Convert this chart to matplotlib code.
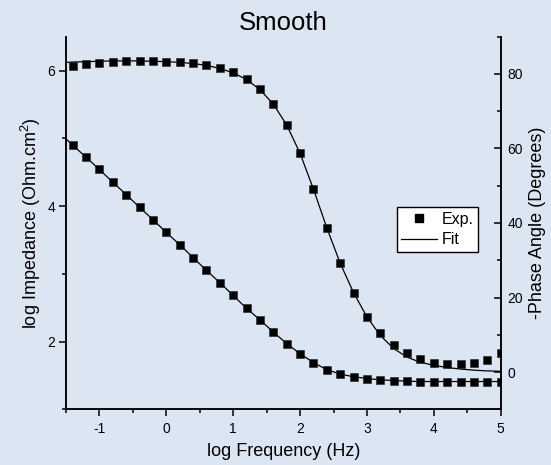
import numpy as np
import matplotlib
matplotlib.use("Agg")
import matplotlib.pyplot as plt
from matplotlib.ticker import MultipleLocator
from matplotlib.lines import Line2D

plt.rcParams['font.family'] = ['Liberation Sans', 'DejaVu Sans']
plt.rcParams['mathtext.fontset'] = 'custom'
plt.rcParams['mathtext.rm'] = 'Liberation Sans'
plt.rcParams['mathtext.it'] = 'Liberation Sans:italic'
plt.rcParams['axes.unicode_minus'] = False

# Measured frequencies (log10 Hz)
log_freq = [-1.4, -1.2, -1.0, -0.8, -0.6, -0.4, -0.2, 0.0, 0.2, 0.4, 0.6,
            0.8, 1.0, 1.2, 1.4, 1.6, 1.8, 2.0, 2.2, 2.4, 2.6, 2.8, 3.0,
            3.2, 3.4, 3.6, 3.8, 4.0, 4.2, 4.4, 4.6, 4.8, 5.0]

# Experimental |Z| (log Ohm.cm^2)
log_z_exp = [4.90, 4.72, 4.54, 4.35, 4.17, 3.98, 3.80, 3.61, 3.43, 3.24, 3.05,
             2.87, 2.68, 2.49, 2.32, 2.14, 1.97, 1.82, 1.69, 1.585, 1.52, 1.48, 1.45,
             1.43, 1.42, 1.415, 1.41, 1.41, 1.41, 1.41, 1.41, 1.41, 1.41]

# Experimental -phase angle (degrees)
phase_exp = [82.2, 82.6, 83.0, 83.2, 83.4, 83.5, 83.5, 83.3, 83.2, 82.9, 82.4,
             81.6, 80.4, 78.6, 75.9, 72.0, 66.3, 58.7, 49.1, 38.7, 29.2, 21.1, 14.8,
             10.4, 7.3, 5.0, 3.6, 2.5, 2.1, 2.1, 2.5, 3.3, 5.2]

# Equivalent-circuit fit
fit_freq = [-1.5, -1.4, -1.2, -1.0, -0.8, -0.6, -0.4, -0.2, 0.0, 0.2, 0.4, 0.6,
            0.8, 1.0, 1.2, 1.4, 1.6, 1.8, 2.0, 2.2, 2.4, 2.6, 2.8, 3.0,
            3.2, 3.4, 3.6, 3.8, 4.0, 4.2, 4.4, 4.6, 4.8, 5.0]
log_z_fit = [4.99, 4.90, 4.72, 4.54, 4.35, 4.17, 3.98, 3.80, 3.61, 3.43, 3.24, 3.05,
             2.87, 2.68, 2.49, 2.32, 2.14, 1.97, 1.82, 1.69, 1.585, 1.52, 1.48, 1.455,
             1.435, 1.425, 1.415, 1.41, 1.41, 1.41, 1.41, 1.41, 1.41, 1.41]
phase_fit = [83.1, 83.2, 83.3, 83.4, 83.5, 83.5, 83.5, 83.4, 83.3, 83.1, 82.8, 82.3,
             81.5, 80.3, 78.5, 75.8, 71.9, 66.3, 58.7, 49.1, 38.7, 29.2, 21.3, 14.8,
             9.8, 6.3, 4.0, 2.6, 1.8, 1.2, 0.8, 0.5, 0.3, 0.2]

bg = '#dce6f2'
fig = plt.figure(figsize=(5.51, 4.65), dpi=100, facecolor=bg)
ax = fig.add_axes([0.1198, 0.1198, 0.7889, 0.8013])
ax.set_facecolor(bg)
ax2 = ax.twinx()

ms = 5.4
ax.plot(fit_freq, log_z_fit, color='black', lw=0.9, zorder=2)
ax.plot(log_freq, log_z_exp, 's', color='black', ms=ms, mec='#222222', mew=0.4, zorder=3)
ax2.plot(fit_freq, phase_fit, color='black', lw=0.9, zorder=2)
ax2.plot(log_freq, phase_exp, 's', color='black', ms=ms, mec='#222222', mew=0.4, zorder=3)

ax.set_xlim(-1.5, 5)
ax.set_ylim(1, 6.5)
ax2.set_ylim(-10, 90)

ax.xaxis.set_major_locator(MultipleLocator(1))
ax.xaxis.set_minor_locator(MultipleLocator(0.5))
ax.yaxis.set_major_locator(MultipleLocator(2))
ax.yaxis.set_minor_locator(MultipleLocator(1))
ax2.yaxis.set_major_locator(MultipleLocator(20))
ax2.yaxis.set_minor_locator(MultipleLocator(10))

for a in (ax, ax2):
    for s in a.spines.values():
        s.set_linewidth(1.1)
    a.spines['top'].set_visible(False)

ax.tick_params(axis='both', which='major', direction='out', length=5, width=1.1,
               labelsize=10, pad=3)
ax.tick_params(axis='both', which='minor', direction='out', length=2.8, width=1.1)
ax.tick_params(axis='x', pad=4)
ax2.tick_params(axis='y', which='major', direction='in', length=5, width=1.1,
                labelsize=10, pad=5)
ax2.tick_params(axis='y', which='minor', direction='in', length=2.8, width=1.1)

ax.set_xlabel('log Frequency (Hz)', fontsize=13, labelpad=5)
ax.set_ylabel('log Impedance (Ohm.cm$^2$)', fontsize=13, labelpad=3)
ax2.set_ylabel('-Phase Angle (Degrees)', fontsize=13, labelpad=4)
ax.set_title('Smooth', fontsize=18.5, pad=5)

handles = [Line2D([], [], marker='s', ls='none', color='black', ms=ms),
           Line2D([], [], color='black', lw=0.9)]
leg = ax2.legend(handles, ['Exp.', 'Fit'], loc='upper right',
                 bbox_to_anchor=(0.948, 0.543), fontsize=11.5, frameon=True,
                 fancybox=False, edgecolor='black', framealpha=1,
                 borderpad=0.3, labelspacing=0.35, handlelength=2.2,
                 handletextpad=0.3, borderaxespad=0)
leg.get_frame().set_linewidth(1.0)

fig.savefig('out.png', dpi=100, facecolor=bg)
